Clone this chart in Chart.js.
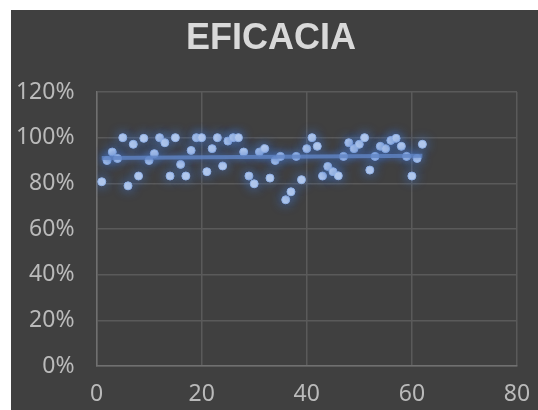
<!DOCTYPE html>
<html>
<head>
<meta charset="utf-8">
<script src="https://cdn.jsdelivr.net/npm/chart.js@4/dist/chart.umd.min.js"></script>
<style>
  html, body { margin: 0; padding: 0; background: #ffffff; }
  #wrap { position: absolute; left: 11px; top: 10px; width: 527px; height: 400px; background: #404040; }
  canvas { display: block; }
</style>
</head>
<body>
<div id="wrap"><canvas id="c" width="527" height="400"></canvas></div>
<script>
// Sample number (x) and efficacy in percent (y)
const sampleIndex = [
  1, 2, 3, 4, 5, 6, 7, 8, 9, 10,
  11, 12, 13, 14, 15, 16, 17, 18, 19, 20,
  21, 22, 23, 24, 25, 26, 27, 28, 29, 30,
  31, 32, 33, 34, 35, 36, 37, 38, 39, 40,
  41, 42, 43, 44, 45, 46, 47, 48, 49, 50,
  51, 52, 53, 54, 55, 56, 57, 58, 59, 60,
  61, 62
];
const efficacy = [
  80.7, 90.0, 93.7, 90.9, 100, 78.9, 97.1, 83.2, 99.7, 90.0,
  93.0, 100, 97.8, 83.2, 100, 88.3, 83.2, 94.4, 100, 100,
  85.1, 95.2, 100, 87.6, 98.5, 100, 100, 93.7, 83.2, 79.8,
  93.7, 95.2, 82.3, 90.0, 91.8, 72.8, 76.3, 91.8, 81.6, 95.2,
  100, 96.2, 83.2, 87.4, 85.1, 83.3, 91.8, 97.8, 95.2, 97.1,
  100, 85.8, 91.8, 96.2, 95.2, 98.8, 99.7, 96.2, 91.8, 83.2,
  90.9, 97.1
];
// Linear trend line end points
const trendX = [1, 62];
const trendY = [91.1, 92.1];

const xTicks = [0, 20, 40, 60, 80];
const yTicks = [0, 20, 40, 60, 80, 100, 120];
const chartTitle = 'EFICACIA';

const points = sampleIndex.map((x, i) => ({ x: x, y: efficacy[i] }));
const trend = trendX.map((x, i) => ({ x: x, y: trendY[i] }));

// Soft blue glow around marks
const glow = {
  id: 'glow',
  beforeDatasetDraw(chart, args) {
    const ctx = chart.ctx;
    ctx.save();
    ctx.shadowColor = 'rgba(68,114,196,1)';
    ctx.shadowBlur = args.index === 0 ? 11 : 7;
  },
  afterDatasetDraw(chart) {
    chart.ctx.restore();
  }
};

// Title centred over the whole chart panel
const panelTitle = {
  id: 'panelTitle',
  afterDraw(chart) {
    const ctx = chart.ctx;
    ctx.save();
    ctx.fillStyle = '#d9d9d9';
    ctx.font = 'bold 36px "Liberation Sans", Arial, sans-serif';
    ctx.textAlign = 'center';
    ctx.textBaseline = 'middle';
    ctx.fillText(chartTitle, 260, 29);
    ctx.restore();
  }
};

const tickFont = { family: '"Noto Sans", "Liberation Sans", sans-serif', size: 23 };

new Chart(document.getElementById('c'), {
  type: 'scatter',
  data: {
    datasets: [
      {
        label: 'EFICACIA',
        data: points,
        pointRadius: 4,
        pointHoverRadius: 4,
        pointBackgroundColor: '#bcd0f0',
        pointBorderColor: '#93b3e6',
        pointBorderWidth: 1,
        order: 2
      },
      {
        label: 'Tendencia',
        type: 'line',
        data: trend,
        showLine: true,
        borderColor: 'rgba(96,132,196,0.8)',
        borderWidth: 4,
        pointRadius: 0,
        order: 1
      }
    ]
  },
  plugins: [glow, panelTitle],
  options: {
    responsive: false,
    animation: false,
    devicePixelRatio: 1,
    layout: { padding: { left: 0, right: 21, top: 82, bottom: 0 } },
    plugins: {
      legend: { display: false },
      tooltip: { enabled: false },
      title: { display: false }
    },
    scales: {
      x: {
        type: 'linear',
        min: 0,
        max: 80,
        afterBuildTicks(scale) { scale.ticks = xTicks.map(v => ({ value: v })); },
        afterFit(scale) {
          scale.height = 44;
          scale.paddingLeft = 0;
          scale.paddingRight = 0;
        },
        border: { color: '#707070', width: 1.5 },
        grid: { color: '#5a5a5a', lineWidth: 1.5, drawTicks: false },
        ticks: { color: '#bababa', font: tickFont, padding: 15, maxRotation: 0 }
      },
      y: {
        type: 'linear',
        min: 0,
        max: 120,
        afterBuildTicks(scale) { scale.ticks = yTicks.map(v => ({ value: v })); },
        afterFit(scale) {
          scale.width = 85.5;
          scale.paddingTop = 0;
          scale.paddingBottom = 0;
        },
        border: { color: '#707070', width: 1.5 },
        grid: { color: '#5a5a5a', lineWidth: 1.5, drawTicks: false },
        ticks: { color: '#bababa', font: tickFont, padding: 22, callback: v => v + '%' }
      }
    }
  }
});
</script>
</body>
</html>
